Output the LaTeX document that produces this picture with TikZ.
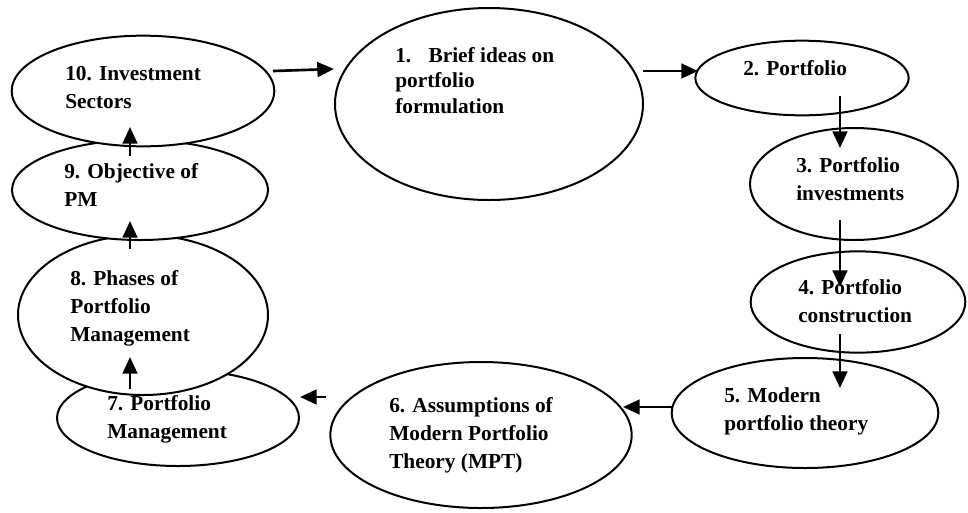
\documentclass[tikz,border=0pt]{standalone}
\usepackage{fontspec}
\setmainfont{Liberation Serif}
\usetikzlibrary{shapes.geometric,arrows.meta}
\begin{document}
\begin{tikzpicture}[x=0.75pt,y=-0.75pt,
  bubble/.style={ellipse,draw=black,line width=1.5pt,fill=white,inner sep=0pt},
  label/.style={anchor=base west,align=left,inner sep=0pt,
    font=\fontsize{16pt}{21pt}\selectfont\bfseries},
  flow/.style={line width=2pt,-{Triangle[length=12.5pt,width=11pt]}}]
\useasboundingbox (0,0) rectangle (968,512);

% ellipses, lower ones first so that upper ones cover their tops
\node[bubble,minimum width=181.5pt,minimum height=72pt] (e7) at (178,418) {};
\node[bubble,minimum width=187.5pt,minimum height=120pt] (e8) at (143,315) {};
\node[bubble,minimum width=192pt,minimum height=75pt] (e9) at (140,190) {};
\node[bubble,minimum width=197pt,minimum height=83pt] (e10) at (143,91) {};
\node[bubble,minimum width=231pt,minimum height=144pt] (e1) at (489,104) {};
\node[bubble,minimum width=160pt,minimum height=56pt] (e2) at (802,78) {};
\node[bubble,minimum width=156pt,minimum height=84pt] (e3) at (854,184) {};
\node[bubble,minimum width=161pt,minimum height=76pt] (e4) at (858,302) {};
\node[bubble,minimum width=200pt,minimum height=82.5pt] (e5) at (805,413) {};
\node[bubble,minimum width=226pt,minimum height=109.5pt] (e6) at (481,435) {};

% texts (placed by the baseline of their last line)
\node[label] (t10) at (65,108) {10. Investment\\Sectors};
\node[label] (t9) at (64,206) {9. Objective of\\PM};
\node[label] (t8) at (70,341) {8. Phases of\\Portfolio\\Management};
\node[label] (t7) at (107,438) {7. Portfolio\\Management};
\node[label,font=\fontsize{16pt}{19pt}\selectfont\bfseries] (t1) at (395,113) {1.\hspace{13pt}Brief ideas on\\portfolio\\formulation};
\node[label] (t2) at (743,75) {2. Portfolio};
\node[label] (t3) at (796,200) {3. Portfolio\\investments};
\node[label] (t4) at (798,322) {4. Portfolio\\construction};
\node[label] (t5) at (724,430) {5. Modern\\portfolio theory};
\node[label] (t6) at (389,468) {6. Assumptions of\\Modern Portfolio\\Theory (MPT)};

% connector end points
\coordinate (a10s) at (273,71);  \coordinate (a10e) at (334,69);
\coordinate (a1s) at (643,71);   \coordinate (a1e) at (698,71);
\coordinate (a2s) at (840,96);   \coordinate (a2e) at (840,148);
\coordinate (a3s) at (840,220);  \coordinate (a3e) at (840,287);
\coordinate (a4s) at (840,334);  \coordinate (a4e) at (840,388);
\coordinate (a5s) at (672,407);  \coordinate (a5e) at (623,407);
\coordinate (a6s) at (326,397);  \coordinate (a6e) at (300,397);
\coordinate (a7s) at (130,389);  \coordinate (a7e) at (130,357);
\coordinate (a8s) at (130,249);  \coordinate (a8e) at (130,221);
\coordinate (a9s) at (130,156);  \coordinate (a9e) at (130,127);

% arrows
\draw[flow] (a10s) -- (a10e);
\draw[flow] (a1s) -- (a1e);
\draw[flow] (a2s) -- (a2e);
\draw[flow] (a3s) -- (a3e);
\draw[flow] (a4s) -- (a4e);
\draw[flow] (a5s) -- (a5e);
\draw[flow] (a6s) -- (a6e);
\draw[flow] (a7s) -- (a7e);
\draw[flow] (a8s) -- (a8e);
\draw[flow] (a9s) -- (a9e);
\end{tikzpicture}
\end{document}
